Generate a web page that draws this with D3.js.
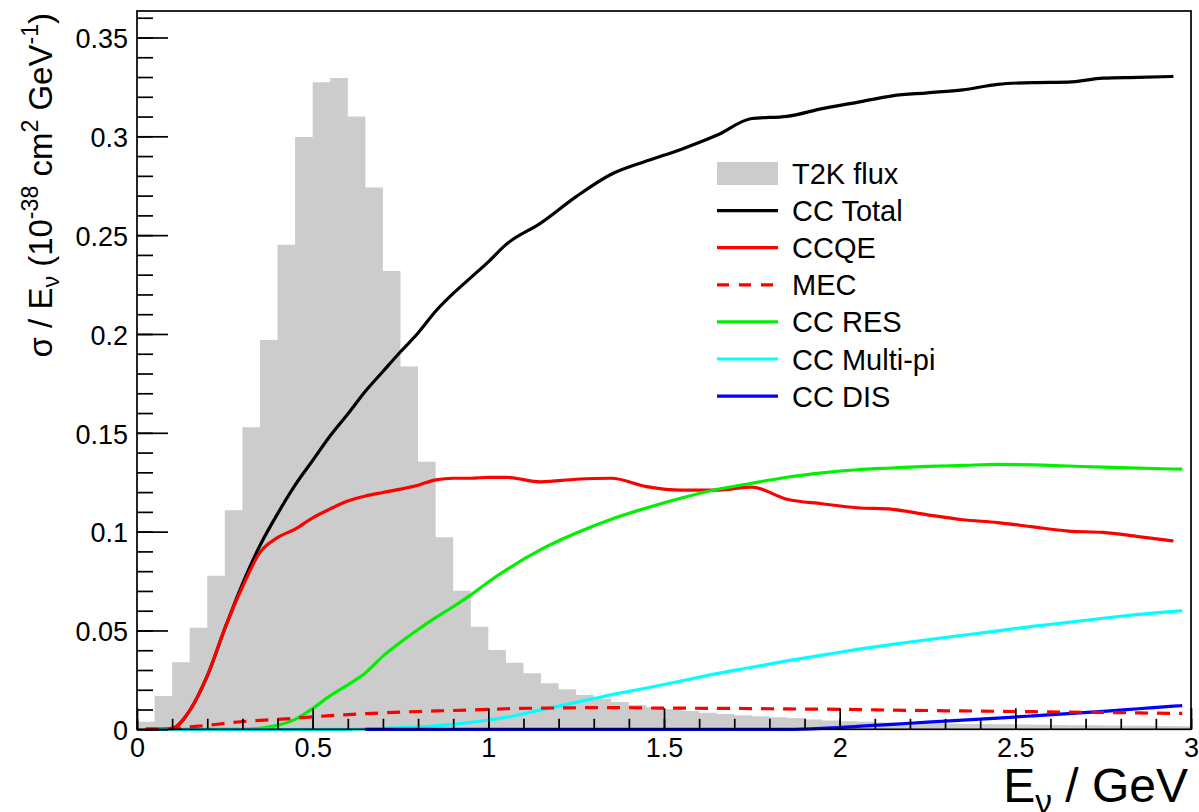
<!DOCTYPE html>
<meta charset="utf-8">
<style>
body { margin: 0; background: #fff; }
svg { font-family: "Liberation Sans", Arial, Helvetica, sans-serif; }
</style>
<svg width="1199" height="812"></svg>
<script src="https://cdn.jsdelivr.net/npm/d3@7"></script>
<script>

// T2K flux histogram, 0.05 GeV bins from 0 to 3 GeV (arbitrary normalisation)
var binWidth = 0.05;
var flux = [0.0038, 0.0169, 0.0339, 0.0514, 0.0777, 0.1108, 0.1528, 0.197, 0.2451, 0.2996,
            0.3274, 0.3295, 0.310, 0.2741, 0.2319, 0.1835, 0.1354, 0.0972, 0.0701, 0.0519,
            0.0401, 0.0337, 0.0283, 0.0233, 0.0202, 0.0174, 0.0155, 0.0138, 0.0123, 0.0112,
            0.0102, 0.0093, 0.0084, 0.0077, 0.0071, 0.0066, 0.0061, 0.0057, 0.0050, 0.0045,
            0.0041, 0.0038, 0.0035, 0.0033, 0.0031, 0.0029, 0.0028, 0.0027, 0.0026, 0.0025,
            0.0024, 0.0023, 0.0022, 0.0021, 0.0020, 0.0019, 0.0018, 0.0018, 0.0017, 0.0016];

// energies (GeV) where the cross sections are sampled
var energy = [0.025, 0.05, 0.1, 0.15, 0.2, 0.25, 0.3, 0.35, 0.4, 0.45, 0.5, 0.55, 0.6, 0.65, 0.7, 0.75, 0.8, 0.85, 0.9, 0.95, 1.0,
              1.05, 1.15, 1.25, 1.35, 1.45, 1.55, 1.65, 1.75, 1.85, 1.95, 2.05, 2.15, 2.25, 2.35, 2.45, 2.55, 2.65, 2.75, 2.85, 2.95,
              2.975];

// sigma / E (1e-38 cm^2 / GeV)
var ccTotal = [0, 0, 0.0005, 0.0095, 0.027, 0.051, 0.0735, 0.093, 0.109, 0.1235, 0.136, 0.1485, 0.1595, 0.171, 0.181, 0.191, 0.2005, 0.2115, 0.2205, 0.2285, 0.2365,
               0.2452, 0.2562, 0.2695, 0.2808, 0.2875, 0.2935, 0.3005, 0.309, 0.3101, 0.314, 0.3172, 0.3205, 0.322, 0.3235, 0.3263, 0.3272, 0.3274, 0.3294, 0.3298, 0.3303,
               null];
var ccqe = [0, 0, 0.0005, 0.0095, 0.027, 0.051, 0.072, 0.0895, 0.097, 0.1013, 0.107, 0.1115, 0.1155, 0.118, 0.1198, 0.1215, 0.1235, 0.1262, 0.127, 0.127, 0.1275,
            0.1275, 0.1252, 0.1265, 0.127, 0.1228, 0.121, 0.121, 0.1225, 0.1164, 0.1141, 0.1121, 0.1113, 0.1085, 0.106, 0.1046, 0.1024, 0.1003, 0.0996, 0.0975, 0.0953,
            null];
var mec = [0, 0.0001, 0.0003, 0.0013, 0.002, 0.003, 0.0039, 0.0045, 0.005, 0.0056, 0.0063, 0.0069, 0.0074, 0.0079, 0.0083, 0.0087, 0.009, 0.0093, 0.0095, 0.0098, 0.0101,
           0.0104, 0.0107, 0.0109, 0.011, 0.0108, 0.0107, 0.0106, 0.0105, 0.0103, 0.0102, 0.01, 0.0097, 0.0095, 0.0093, 0.0091, 0.0089, 0.0087, 0.0085, 0.0083, 0.0081,
           0.0081];
var ccRes = [0, 0, 0, 0, 0, 0, 0, 0.0005, 0.002, 0.005, 0.0105, 0.017, 0.0225, 0.0285, 0.037, 0.044, 0.0505, 0.0565, 0.062, 0.068, 0.0745,
             0.0805, 0.091, 0.0993, 0.1063, 0.112, 0.117, 0.1213, 0.1245, 0.1275, 0.1297, 0.1313, 0.1322, 0.133, 0.1335, 0.134, 0.1338, 0.1332, 0.1326, 0.1321, 0.1317,
             0.1316];
var ccMultiPi = [null, 0, 0, 0, 0, 0, 0, 0, 0, 0, 0, 0, 0, 0.0002, 0.0005, 0.0008, 0.0012, 0.0018, 0.0025, 0.0035, 0.0047,
                 0.006, 0.0098, 0.0136, 0.0175, 0.0209, 0.0245, 0.0282, 0.0314, 0.0346, 0.0375, 0.0404, 0.043, 0.0453, 0.0476, 0.0498, 0.0521, 0.0541, 0.0562, 0.0581, 0.0597,
                 0.06];
var ccDis = [null, null, null, null, null, null, null, null, null, null, null, null, null, 0, 0, 0, 0, 0, 0, 0, 0,
             0, 0, 0, 0, 0, 0, 0, 0, 0, 0.0005, 0.0015, 0.0025, 0.0036, 0.0046, 0.0057, 0.0068, 0.0079, 0.0091, 0.0104, 0.0117,
             0.012];

var xTickValues = [0, 0.5, 1, 1.5, 2, 2.5, 3];
var xTickLabels = ["0", "0.5", "1", "1.5", "2", "2.5", "3"];
var yTickValues = [0, 0.05, 0.1, 0.15, 0.2, 0.25, 0.3, 0.35];
var yTickLabels = ["0", "0.05", "0.1", "0.15", "0.2", "0.25", "0.3", "0.35"];

var legendLabels = ["T2K flux", "CC Total", "CCQE", "MEC", "CC RES", "CC Multi-pi", "CC DIS"];

var svg = d3.select("svg");

var plotLeft = 137, plotRight = 1191, plotTop = 11, plotBottom = 729.3;

var x = d3.scaleLinear().domain([0, 3]).range([plotLeft, plotRight]);
var y = d3.scaleLinear().domain([0, 0.3634]).range([plotBottom, plotTop]);

// flux histogram as one stepped area so the bins have no seams
var fluxPts = flux.map(function(v, i) { return { e: i * binWidth, v: v }; });
fluxPts.push({ e: 3, v: flux[flux.length - 1] });

var area = d3.area()
    .x(function(d) { return x(d.e); })
    .y0(y(0))
    .y1(function(d) { return y(d.v); })
    .curve(d3.curveStepAfter);

svg.append("path")
    .datum(fluxPts)
    .attr("d", area)
    .attr("fill", "#cccccc");

// cross section curves
var series = [
  { values: ccTotal,   color: "#000000", dash: null },
  { values: ccqe,      color: "#ff0000", dash: null },
  { values: ccRes,     color: "#00f000", dash: null },
  { values: ccMultiPi, color: "#00ffff", dash: null },
  { values: ccDis,     color: "#0000ff", dash: null },
  { values: mec,       color: "#ff0000", dash: "13,9" }
];

var line = d3.line()
    .defined(function(d) { return d[1] != null; })
    .x(function(d) { return x(d[0]); })
    .y(function(d) { return y(d[1]); })
    .curve(d3.curveMonotoneX);

series.forEach(function(s) {
  svg.append("path")
      .datum(energy.map(function(e, i) { return [e, s.values[i]]; }))
      .attr("d", line)
      .attr("fill", "none")
      .attr("stroke", s.color)
      .attr("stroke-width", 3.2)
      .attr("stroke-linejoin", "round")
      .attr("stroke-dasharray", s.dash);
});

// axes: ticks point into the frame
function styleAxis(g) {
  g.select(".domain").remove();
  g.attr("font-size", 27).attr("font-family", null);
  g.selectAll(".tick line").attr("stroke-width", 1.7);
}

svg.append("g")
    .attr("transform", "translate(0," + plotBottom + ")")
    .call(d3.axisBottom(x).tickValues(d3.range(0, 3.001, 0.1)).tickSize(-10.5).tickFormat(""))
    .call(styleAxis);

svg.append("g")
    .attr("transform", "translate(0," + plotBottom + ")")
    .call(d3.axisBottom(x).tickValues(xTickValues)
        .tickFormat(function(d, i) { return xTickLabels[i]; })
        .tickSizeInner(-21).tickSizeOuter(0).tickPadding(9))
    .call(styleAxis);

svg.append("g")
    .attr("transform", "translate(" + plotLeft + ",0)")
    .call(d3.axisLeft(y).tickValues(d3.range(0, 0.3601, 0.01)).tickSize(-16).tickFormat(""))
    .call(styleAxis);

svg.append("g")
    .attr("transform", "translate(" + plotLeft + ",0)")
    .call(d3.axisLeft(y).tickValues(yTickValues)
        .tickFormat(function(d, i) { return yTickLabels[i]; })
        .tickSizeInner(-31).tickSizeOuter(0).tickPadding(9))
    .call(styleAxis)
    .selectAll("text").attr("dy", "0.38em");

svg.append("rect")
    .attr("x", plotLeft).attr("y", plotTop)
    .attr("width", plotRight - plotLeft).attr("height", plotBottom - plotTop)
    .attr("fill", "none")
    .attr("stroke", "#000")
    .attr("stroke-width", 1.7);

// text with sub/superscripts: parts are [string, "n" | "sub" | "sup"]
function richText(sel, parts, size) {
  var shift = 0;
  parts.forEach(function(p) {
    var target = p[1] == "sup" ? -0.42 * size : p[1] == "sub" ? 0.22 * size : 0;
    sel.append("tspan")
        .attr("dy", target - shift)
        .attr("font-size", p[1] == "n" ? size : size * 0.7)
        .text(p[0]);
    shift = target;
  });
}

var yTitle = svg.append("text")
    .attr("transform", "translate(52,13) rotate(-90)")
    .attr("text-anchor", "end")
    .attr("font-size", 33);
richText(yTitle, [["σ / E", "n"], ["ν", "sub"], [" (10", "n"], ["-38", "sup"], [" cm", "n"],
                  ["2", "sup"], [" GeV", "n"], ["-1", "sup"], [")", "n"]], 33);

var xTitle = svg.append("text")
    .attr("x", 1188).attr("y", 802)
    .attr("text-anchor", "end")
    .attr("font-size", 48);
richText(xTitle, [["E", "n"], ["ν", "sub"], [" / GeV", "n"]], 48);

// legend
var legend = svg.append("g");
var rowY = function(i) { return 173.5 + i * 37.1; };

legend.append("rect")
    .attr("x", 717).attr("y", rowY(0) - 11.5)
    .attr("width", 61).attr("height", 23)
    .attr("fill", "#cccccc");

var legendSeries = [series[0], series[1], series[5], series[2], series[3], series[4]];
legendSeries.forEach(function(s, i) {
  legend.append("line")
      .attr("x1", 717).attr("x2", 778)
      .attr("y1", rowY(i + 1)).attr("y2", rowY(i + 1))
      .attr("stroke", s.color)
      .attr("stroke-width", 3.2)
      .attr("stroke-dasharray", s.dash ? "12,10" : null);
});

legend.selectAll("text")
    .data(legendLabels)
    .enter().append("text")
      .attr("x", 792)
      .attr("y", function(d, i) { return rowY(i) + 10.5; })
      .attr("font-size", 29)
      .text(function(d) { return d; });

</script>
